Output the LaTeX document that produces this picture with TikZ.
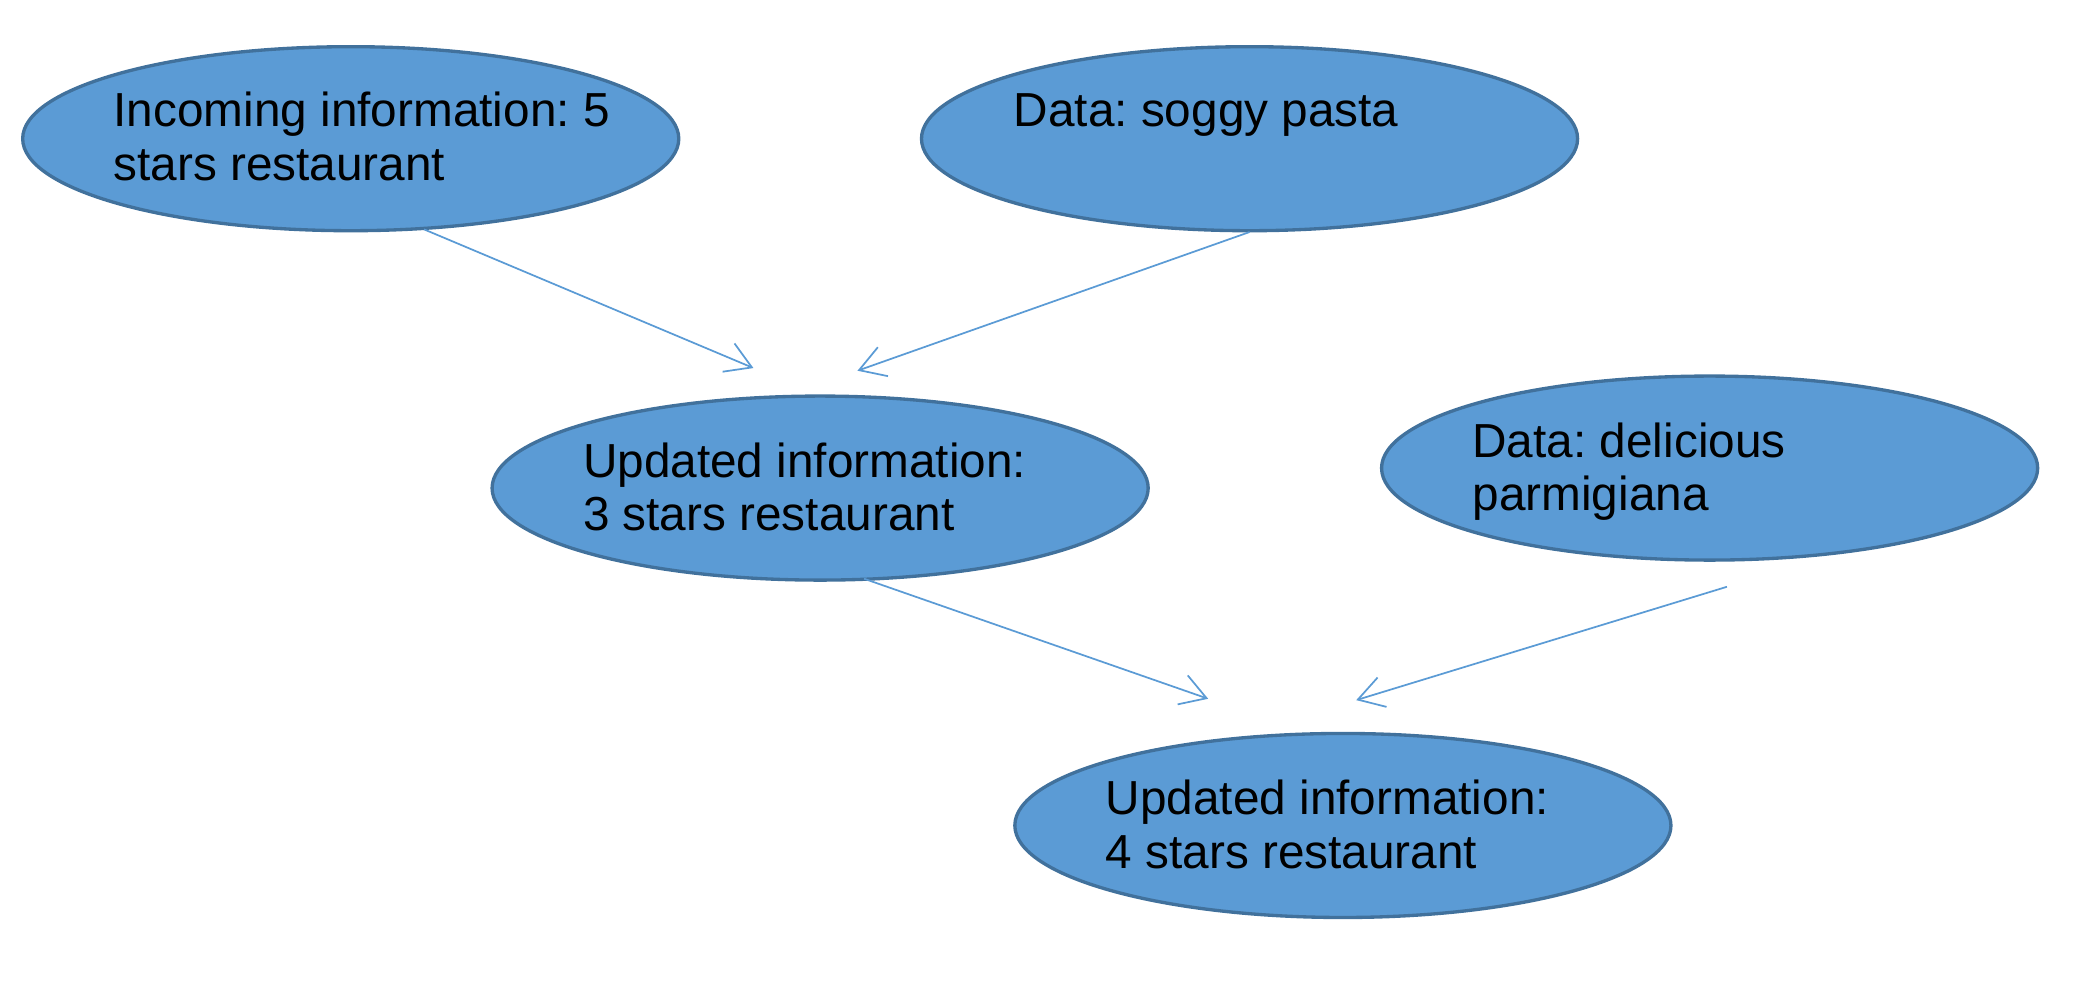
\documentclass[tikz,border=0pt]{standalone}
\usepackage{fontspec}
\setmainfont{Liberation Sans}
\usetikzlibrary{shapes.geometric,arrows.meta}
\definecolor{fillblue}{HTML}{5B9BD5}
\definecolor{edgeblue}{HTML}{41719C}
\frenchspacing
\begin{document}
\begin{tikzpicture}[x=1pt,y=-1pt,
  bubble/.style={ellipse, draw=edgeblue, line width=2.5pt, fill=fillblue,
    minimum width=492pt, minimum height=138pt, inner sep=0pt},
  txt/.style={anchor=base west, inner sep=0pt, font=\fontsize{35.8}{40}\selectfont\frenchspacing, align=left},
  link/.style={draw=fillblue, line width=1.3pt,
    -{Straight Barb[length=19pt,width=23pt,line width=1.3pt]}}]
\useasboundingbox (0,0) rectangle (1568,736.4);
\node[bubble] (A) at (263,104) {};
\node[bubble] (B) at (937,104) {};
\node[bubble] (C) at (615,366) {};
\node[bubble] (D) at (1282,351) {};
\node[bubble] (E) at (1007,619) {};
\node[txt] (At) at (85,135) {Incoming information: 5\\stars restaurant};
\node[txt] (Bt) at (760,95) {Data: soggy pasta};
\node[txt] (Ct) at (437,398) {Updated information:\\3 stars restaurant};
\node[txt] (Dt) at (1104,383) {Data: delicious\\parmigiana};
\node[txt] (Et) at (829,651) {Updated information:\\4 stars restaurant};
\coordinate (a1) at (318,172);
\coordinate (c1) at (565,276);
\coordinate (b1) at (937,174);
\coordinate (c2) at (643,278);
\coordinate (c3) at (648,434);
\coordinate (e1) at (906,524);
\coordinate (d1) at (1295,440);
\coordinate (e2) at (1017,525);
\draw[link] (a1) -- (c1);
\draw[link] (b1) -- (c2);
\draw[link] (c3) -- (e1);
\draw[link] (d1) -- (e2);
\end{tikzpicture}
\end{document}
